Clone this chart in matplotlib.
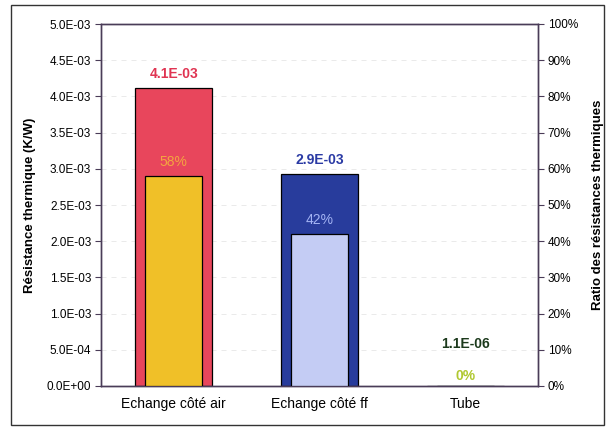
import matplotlib.pyplot as plt
from matplotlib.patches import Rectangle
from matplotlib.ticker import FuncFormatter, MultipleLocator

plt.rcParams['font.family'] = ['Liberation Sans', 'DejaVu Sans']

categories = ['Echange côté air', 'Echange côté ff', 'Tube']
resistance = [4.12e-3, 2.93e-3, 1.1e-6]
ratio = [0.58, 0.42, 0.0]

outer_colors = ['#e8465c', '#283c9c', '#3a8a3a']
inner_colors = ['#f0c028', '#c4ccf4', '#b8cc30']
val_colors = ['#e03452', '#2a3aa4', '#1c3a1c']
pct_colors = ['#f4a440', '#a4b4f4', '#b0c830']
spine_col = '#4a3c58'

fig = plt.figure(figsize=(6.09, 4.30), dpi=100)
fig.patches.append(Rectangle((11 / 609, 5 / 430), 593 / 609, 420 / 430,
                             transform=fig.transFigure, fill=False,
                             edgecolor='#333333', linewidth=1.0))

ax = fig.add_axes([101 / 609, 44 / 430, 437 / 609, 362 / 430])
ax2 = ax.twinx()

x = list(range(len(categories)))
ax.bar(x, resistance, width=0.53, color=outer_colors, edgecolor='black',
       linewidth=0.9, zorder=2)
ax.set_ylim(0, 5e-3)
ax.set_xlim(-0.5, 2.5)
ax.yaxis.set_major_locator(MultipleLocator(5e-4))
ax.yaxis.set_major_formatter(FuncFormatter(lambda v, p: '%.1E' % v))
ax.grid(axis='y', color='#e6e6e6', linestyle=(0, (6, 6)), linewidth=0.6, zorder=0)
ax.set_axisbelow(True)

ax2.bar(x, ratio, width=0.39, color=inner_colors, edgecolor='black',
        linewidth=0.9, zorder=3)
ax2.set_ylim(0, 1.0)
ax2.yaxis.set_major_locator(MultipleLocator(0.1))
ax2.yaxis.set_major_formatter(FuncFormatter(lambda v, p: '%d%%' % round(v * 100)))

for a in (ax, ax2):
    for s in a.spines.values():
        s.set_color(spine_col)
        s.set_linewidth(1.0)
    a.tick_params(axis='y', direction='out', length=4, width=0.8,
                  color=spine_col, labelsize=8.5, pad=3)

ax.set_xticks(x)
ax.set_xticklabels(categories, fontsize=10)
ax.tick_params(axis='x', length=0, pad=8)

ax.set_ylabel('Résistance thermique (K/W)', fontsize=9.5, fontweight='bold', labelpad=8)
ax2.set_ylabel('Ratio des résistances thermiques', fontsize=9.5, fontweight='bold', labelpad=10)

# value labels
offsets_val = [5, 5, 25]
for i, v in enumerate(resistance):
    ax.annotate('%.1E' % v, (x[i], v), xytext=(0, offsets_val[i]),
                textcoords='offset points', ha='center', va='bottom',
                fontsize=10, fontweight='bold', color=val_colors[i], zorder=5)
offsets_pct = [5, 5, 2]
for i, r in enumerate(ratio):
    ax2.annotate('%d%%' % round(r * 100), (x[i], r), xytext=(0, offsets_pct[i]),
                 textcoords='offset points', ha='center', va='bottom',
                 fontsize=10, fontweight='bold' if i == 2 else 'normal',
                 color=pct_colors[i], zorder=5)

fig.savefig('out.png', dpi=100)
